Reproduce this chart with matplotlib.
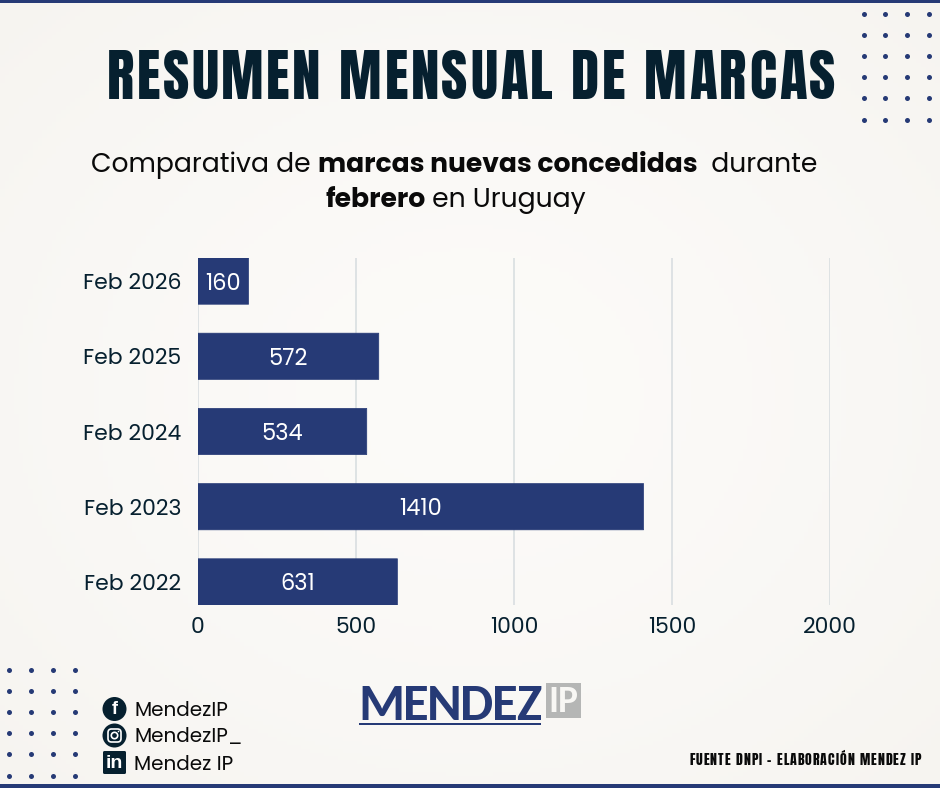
#!/usr/bin/env python3
"""
Monthly trademark summary: new marks granted in February, Uruguay.
"""

import matplotlib
matplotlib.use('Agg')
import matplotlib.pyplot as plt
from matplotlib.patches import Circle, FancyBboxPatch, Rectangle
import numpy as np

years = ['Feb 2022', 'Feb 2023', 'Feb 2024', 'Feb 2025', 'Feb 2026']
marcas = [631, 1410, 534, 572, 160]
x_ticks = [0, 500, 1000, 1500, 2000]

NAVY = '#263a76'
DARK = '#06202f'
BODY_FONT = ['Poppins', 'Inter', 'DejaVu Sans']
CONDENSED = ['Anton', 'Liberation Sans', 'DejaVu Sans']
LOGO_FONT = ['Carlito', 'Lato', 'DejaVu Sans']

W, H = 940, 788


def text_width(fig, txt, **kw):
    t = fig.text(0, 0, txt, **kw)
    w = t.get_window_extent(fig.canvas.get_renderer()).width
    t.remove()
    return w


def spaced_text(fig, ax, txt, x, y, tracking, **kw):
    # matplotlib has no letter spacing, so place each character by hand
    for i, ch in enumerate(txt):
        if ch != ' ':
            ax.text(x, y, ch, ha='left', va='baseline', **kw)
        adv = text_width(fig, 'H' + ch + 'H', **kw) - text_width(fig, 'HH', **kw)
        x += adv + tracking


def runs(fig, ax, parts, x, y):
    # consecutive text pieces on one line, each with its own weight
    for txt, kw in parts:
        ax.text(x, y, txt, ha='left', va='baseline', **kw)
        x += text_width(fig, 'H' + txt + 'H', **kw) - text_width(fig, 'HH', **kw)


fig = plt.figure(figsize=(W / 100, H / 100), dpi=100)

# soft paper background, slightly lighter toward the middle
bg = fig.add_axes([0, 0, 1, 1], zorder=0)
yy, xx = np.mgrid[0:1:200j, 0:1:200j]
r = np.sqrt((xx - 0.5) ** 2 + (yy - 0.5) ** 2) / 0.707
edge = np.array([0.966, 0.957, 0.942])
mid = np.array([0.988, 0.984, 0.975])
bg.imshow((mid + (edge - mid) * r[..., None] ** 1.5), extent=[0, 1, 0, 1], aspect='auto')
bg.axis('off')

# bar chart
ax = fig.add_axes([198 / W, 1 - 605.4 / H, (830 - 198) / W, (605.4 - 257.6) / H], zorder=1)
ax.patch.set_alpha(0)
bars = ax.barh(years, marcas, height=0.615, color=NAVY, edgecolor=NAVY,
               linewidth=0.5, joinstyle='round', zorder=3)
for bar, val in zip(bars, marcas):
    bar.set_snap(False)
    ax.text(val / 2, bar.get_y() + bar.get_height() / 2, str(val), color='white',
            ha='center', va='center_baseline', fontsize=16.2, family=BODY_FONT, zorder=4)

ax.set_xlim(0, 2000)
ax.set_ylim(-0.3125, 4.3125)
ax.set_xticks(x_ticks)
ax.grid(True, axis='x', color='#d6dcdf', linewidth=1.1, zorder=0)
ax.set_axisbelow(True)
ax.tick_params(length=0, labelcolor=DARK, labelsize=15.8)
ax.tick_params(axis='x', pad=8.5)
ax.tick_params(axis='y', pad=12)
for lab in ax.get_xticklabels() + ax.get_yticklabels():
    lab.set_family(BODY_FONT)
for s in ax.spines.values():
    s.set_visible(False)

# overlay in pixel coordinates for everything around the chart
ov = fig.add_axes([0, 0, 1, 1], zorder=2)
ov.set_xlim(0, W)
ov.set_ylim(H, 0)
ov.axis('off')

ov.add_patch(Rectangle((0, 0), W, 3, color=NAVY, lw=0))
ov.add_patch(Rectangle((0, 784), W, 4, color=NAVY, lw=0))

# dot grids in the corners
dot_x1, dot_y1 = np.meshgrid([863.5, 885.3, 907.1, 929], [14, 35.1, 56.2, 77.3, 98.4, 119.5])
dot_x2, dot_y2 = np.meshgrid([9, 31, 53, 75], [670, 691, 712, 733, 754, 775.5])
ov.scatter(dot_x1.ravel(), dot_y1.ravel(), s=13, color=NAVY, lw=0)
ov.scatter(dot_x2.ravel(), dot_y2.ravel(), s=13, color=NAVY, lw=0)

# title
title_kw = dict(family=CONDENSED, fontsize=41, color=DARK)
spaced_text(fig, ov, 'RESUMEN MENSUAL DE MARCAS', 107, 99, 2.6, **title_kw)

# subtitle with mixed weights
reg = dict(family=BODY_FONT, fontsize=19.2, color='#0a0a0a')
bold = dict(family=BODY_FONT, weight='bold', fontsize=19.2, color='#0a0a0a')
runs(fig, ov, [('Comparativa de ', reg), ('marcas nuevas concedidas', bold), ('  durante', reg)], 91, 172)
runs(fig, ov, [('febrero', bold), (' en Uruguay', reg)], 325, 207)

# social handles
ov.add_patch(Circle((114.5, 709), 12, color=DARK, lw=0))
ov.text(114.5, 710, 'f', color='white', ha='center', va='center', fontsize=13,
        family=['Liberation Sans', 'DejaVu Sans'], weight='bold')
ov.add_patch(Circle((114.5, 735.5), 12, color=DARK, lw=0))
ov.add_patch(FancyBboxPatch((108, 729), 13, 13, boxstyle='round,pad=0,rounding_size=3.5',
                            fc='none', ec='white', lw=1.2))
ov.add_patch(Circle((114.5, 735.5), 3.2, fc='none', ec='white', lw=1.2))
ov.add_patch(Circle((118.5, 731.5), 0.8, color='white', lw=0))
ov.add_patch(FancyBboxPatch((103, 751), 23, 23, boxstyle='round,pad=0,rounding_size=1.5',
                            fc=DARK, ec='none'))
ov.text(114.5, 763.5, 'in', color='white', ha='center', va='center', fontsize=14,
        family=['Liberation Sans', 'DejaVu Sans'], weight='bold')
for label, y in zip(['MendezIP', 'MendezIP_', 'Mendez IP'], [716, 742, 770]):
    ov.text(134, y, label, color='#0a0a0a', ha='left', va='baseline', fontsize=14.4, family=BODY_FONT)

# logo
spaced_text(fig, ov, 'MENDEZ', 358, 720, -1.5, color=NAVY, fontsize=38, family=LOGO_FONT, weight='bold')
ov.add_patch(Rectangle((359, 722.5), 182, 2.2, color=NAVY, lw=0))
ov.add_patch(Rectangle((546, 683), 35, 35, color='#b5b6b5', lw=0))
ov.text(563.5, 701, 'IP', color='#f8f7f4', ha='center', va='center', fontsize=27,
        family=LOGO_FONT, weight='bold')

# source line
spaced_text(fig, ov, 'FUENTE DNPI - ELABORACIÓN MENDEZ IP', 689, 765, 1.0,
            color='#0a0a0a', fontsize=10, family=CONDENSED)

fig.savefig('out.png', dpi=100)
